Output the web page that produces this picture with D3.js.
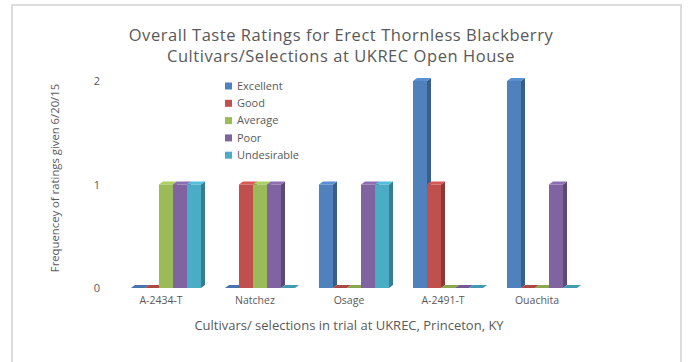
<!DOCTYPE html>
<html>
<head>
<meta charset="utf-8">
<script src="https://cdn.jsdelivr.net/npm/d3@7"></script>
<style>
  html, body { margin: 0; padding: 0; background: #fff; }
  svg { display: block; font-family: "Open Sans", Lato, sans-serif; }
</style>
</head>
<body>
<svg id="chart" width="688" height="362"></svg>
<script>
// Cultivars / selections on the x axis
const categories = ["A-2434-T", "Natchez", "Osage", "A-2491-T", "Ouachita"];
// Rating classes (one bar per class inside each cultivar group)
const ratings = ["Excellent", "Good", "Average", "Poor", "Undesirable"];
// Number of ratings of each class, per cultivar (same order as categories)
const excellent   = [0, 0, 1, 2, 2];
const good        = [0, 1, 0, 1, 0];
const average     = [1, 1, 0, 0, 0];
const poor        = [1, 1, 1, 0, 1];
const undesirable = [1, 0, 1, 0, 0];
const yTicks = [0, 1, 2];

const seriesValues = [excellent, good, average, poor, undesirable];
const colors = ["#4F81BD", "#C0504D", "#9BBB59", "#8064A2", "#4BACC6"];

const svg = d3.select("#chart");
const textColor = "#595959";
const font = "'Open Sans', Lato, sans-serif";

// outer chart frame
svg.append("rect")
  .attr("x", 12).attr("y", 5)
  .attr("width", 669).attr("height", 370)
  .attr("fill", "none")
  .attr("stroke", "#dcdcdc")
  .attr("stroke-width", 2);

const x0 = d3.scaleBand().domain(categories).range([107, 601])
  .paddingInner(0.255).paddingOuter(0.255);
const x1 = d3.scaleBand().domain(ratings).range([0, x0.bandwidth()]);
const y = d3.scaleLinear().domain([0, 2]).range([288, 81]);

// 3-D extrusion offsets
const dx = 4, dy = 3;

const rows = [];
categories.forEach((c, ci) => {
  ratings.forEach((r, ri) => {
    rows.push({ cat: c, rating: r, value: seriesValues[ri][ci], color: colors[ri] });
  });
});

const bars = svg.append("g").attr("class", "bars");
rows.forEach(d => {
  const x = x0(d.cat) + x1(d.rating);
  const w = x1.bandwidth();
  const top = y(d.value);
  const base = y(0);
  const c = d3.color(d.color);
  const g = bars.append("g");
  // side face
  g.append("polygon")
    .attr("points", [[x + w, top], [x + w + dx, top - dy], [x + w + dx, base - dy], [x + w, base]].join(" "))
    .attr("fill", c.darker(0.9));
  // top face
  g.append("polygon")
    .attr("points", [[x, top], [x + dx, top - dy], [x + w + dx, top - dy], [x + w, top]].join(" "))
    .attr("fill", d.value > 0 ? c.brighter(0.3) : c.darker(0.3));
  // front face
  g.append("rect")
    .attr("x", x).attr("y", top)
    .attr("width", w).attr("height", Math.max(0, base - top))
    .attr("fill", d.color);
});

// y axis (labels only)
const yAxis = svg.append("g")
  .attr("transform", "translate(101,0)")
  .call(d3.axisLeft(y).tickValues(yTicks).tickSize(0).tickPadding(0).tickFormat(d3.format("d")));
yAxis.select(".domain").remove();
yAxis.selectAll("text")
  .attr("text-anchor", "middle").attr("x", -4)
  .attr("fill", textColor).style("font-size", "11px").style("font-family", font);

// x axis (category labels)
const xAxis = svg.append("g")
  .attr("transform", "translate(-5,297)")
  .call(d3.axisBottom(x0).tickSize(0).tickPadding(0));
xAxis.select(".domain").remove();
xAxis.selectAll("text")
  .attr("fill", textColor).style("font-size", "10.5px").style("font-family", font);

// two-line title
const titleLines = ["Overall Taste Ratings for Erect Thornless Blackberry",
                    "Cultivars/Selections at UKREC Open House"];
titleLines.forEach((t, i) => {
  svg.append("text")
    .attr("x", 341).attr("y", 41 + i * 21)
    .attr("text-anchor", "middle")
    .attr("fill", textColor)
    .style("font-size", "16.5px")
    .style("letter-spacing", "0.55px")
    .text(t);
});

// axis titles
svg.append("text")
  .attr("transform", "translate(59,178) rotate(-90)")
  .attr("text-anchor", "middle")
  .attr("fill", textColor)
  .style("font-size", "11.3px")
  .text("Frequencey of ratings given 6/20/15");

svg.append("text")
  .attr("x", 349).attr("y", 330)
  .attr("text-anchor", "middle")
  .attr("fill", textColor)
  .style("font-size", "13px")
  .text("Cultivars/ selections in trial at UKREC, Princeton, KY");

// legend
const legend = svg.append("g").attr("transform", "translate(225,86)");
ratings.forEach((r, i) => {
  const row = legend.append("g").attr("transform", `translate(0,${i * 17.3})`);
  row.append("rect").attr("x", 0).attr("y", -3.5).attr("width", 7).attr("height", 7)
    .attr("fill", colors[i]);
  row.append("text").attr("x", 12).attr("y", 0).attr("dy", "0.35em")
    .attr("fill", textColor).style("font-size", "11px").text(r);
});
</script>
</body>
</html>
